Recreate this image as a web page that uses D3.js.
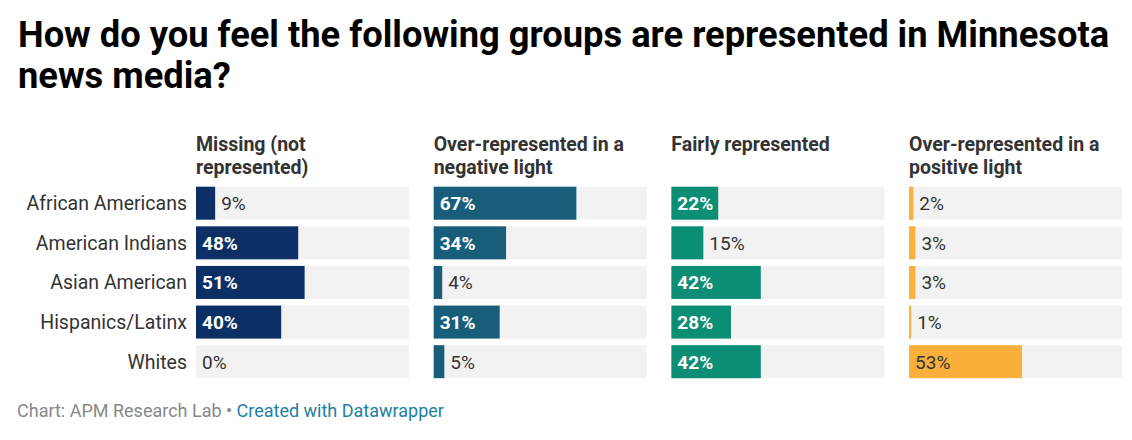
<!DOCTYPE html>
<html>
<head>
<meta charset="utf-8">
<script src="https://cdn.jsdelivr.net/npm/d3@7"></script>
<style>
	body { margin: 0; background: #fff; }
	svg text { font-family: Roboto, "Noto Sans", sans-serif; }
</style>
</head>
<body>
<div id="chart"></div>
<script>
// groups down the side, answers across the top
var groups = ['African Americans', 'American Indians', 'Asian American', 'Hispanics/Latinx', 'Whites'];
var answers = [
	['Missing (not', 'represented)'],
	['Over-represented in a', 'negative light'],
	['Fairly represented'],
	['Over-represented in a', 'positive light']
];
var missing = [9, 48, 51, 40, 0];
var negative = [67, 34, 4, 31, 5];
var fairly = [22, 15, 42, 28, 42];
var positive = [2, 3, 3, 1, 53];
var series = [missing, negative, fairly, positive];
var colors = ['#0c3066', '#185e7a', '#0c8e74', '#fbb03b'];
// labels on the yellow bars stay dark
var darkLabel = [false, false, false, true];

var width = 1132;
var height = 440;

var svg = d3.select('#chart').append('svg')
	.attr('width', width)
	.attr('height', height);

// title
var title = svg.append('text')
	.attr('x', 18)
	.attr('y', 47)
	.style('font-size', '36.3px')
	.style('font-weight', 700)
	.style('fill', '#000');
title.append('tspan').attr('x', 18).text('How do you feel the following groups are represented in Minnesota');
title.append('tspan').attr('x', 18).attr('dy', 41).text('news media?');

var colScale = d3.scaleBand()
	.domain(d3.range(answers.length))
	.range([196, 1122])
	.paddingInner(0.104);

var rowScale = d3.scaleBand()
	.domain(groups)
	.range([186.7, 378.2])
	.paddingInner(0.167);

var xScale = d3.scaleLinear()
	.domain([0, 100])
	.range([0, colScale.bandwidth()]);

// row labels
svg.selectAll('.rowLabel').data(groups).enter().append('text')
	.attr('class', 'rowLabel')
	.attr('x', 187)
	.attr('y', function (d) { return rowScale(d) + rowScale.bandwidth()/2 + 7; })
	.style('text-anchor', 'end')
	.style('font-size', '19.5px')
	.style('fill', '#333')
	.text(function (d) { return d; });

var cols = svg.selectAll('.col').data(series).enter().append('g')
	.attr('class', 'col')
	.attr('transform', function (d, i) { return 'translate(' + colScale(i) + ',0)'; });

// column headers
cols.append('text')
	.attr('y', 151)
	.style('font-size', '19.5px')
	.style('font-weight', 700)
	.style('fill', '#333')
	.each(function (d, i) {
		var t = d3.select(this);
		answers[i].forEach(function (line, j) {
			t.append('tspan').attr('x', 0).attr('dy', j == 0 ? 0 : 23).text(line);
		});
	});

// grey backgrounds
cols.selectAll('.bg').data(groups).enter().append('rect')
	.attr('class', 'bg')
	.attr('x', 0)
	.attr('y', function (d) { return rowScale(d); })
	.attr('width', colScale.bandwidth())
	.attr('height', rowScale.bandwidth())
	.attr('fill', '#f2f2f2');

// bars
cols.each(function (vals, i) {
	var g = d3.select(this);
	var rows = vals.map(function (v, k) { return {v: v, group: groups[k]}; });

	g.selectAll('.bar').data(rows).enter().append('rect')
		.attr('class', 'bar')
		.attr('x', 0)
		.attr('y', function (d) { return rowScale(d.group); })
		.attr('width', function (d) { return xScale(d.v); })
		.attr('height', rowScale.bandwidth())
		.attr('fill', colors[i]);

	g.selectAll('.val').data(rows).enter().append('text')
		.attr('class', 'val')
		.attr('y', function (d) { return rowScale(d.group) + rowScale.bandwidth()/2 + 7; })
		.style('font-size', '19px')
		.text(function (d) { return d.v + '%'; })
		.each(function (d) {
			var t = d3.select(this);
			var w = this.getComputedTextLength();
			var inside = xScale(d.v) > w + 10;
			if (inside) {
				t.attr('x', 6)
					.style('fill', darkLabel[i] ? '#333' : '#fff')
					.style('font-weight', darkLabel[i] ? 400 : 700);
			} else {
				t.attr('x', xScale(d.v) + 6)
					.style('fill', '#333')
					.style('font-weight', 400);
			}
		});
});

// footer
var foot = svg.append('text')
	.attr('x', 17)
	.attr('y', 417)
	.style('font-size', '18px');
foot.append('tspan').style('fill', '#888').text('Chart: APM Research Lab • ');
foot.append('tspan').style('fill', '#1d81a2').text('Created with Datawrapper');
</script>
</body>
</html>
